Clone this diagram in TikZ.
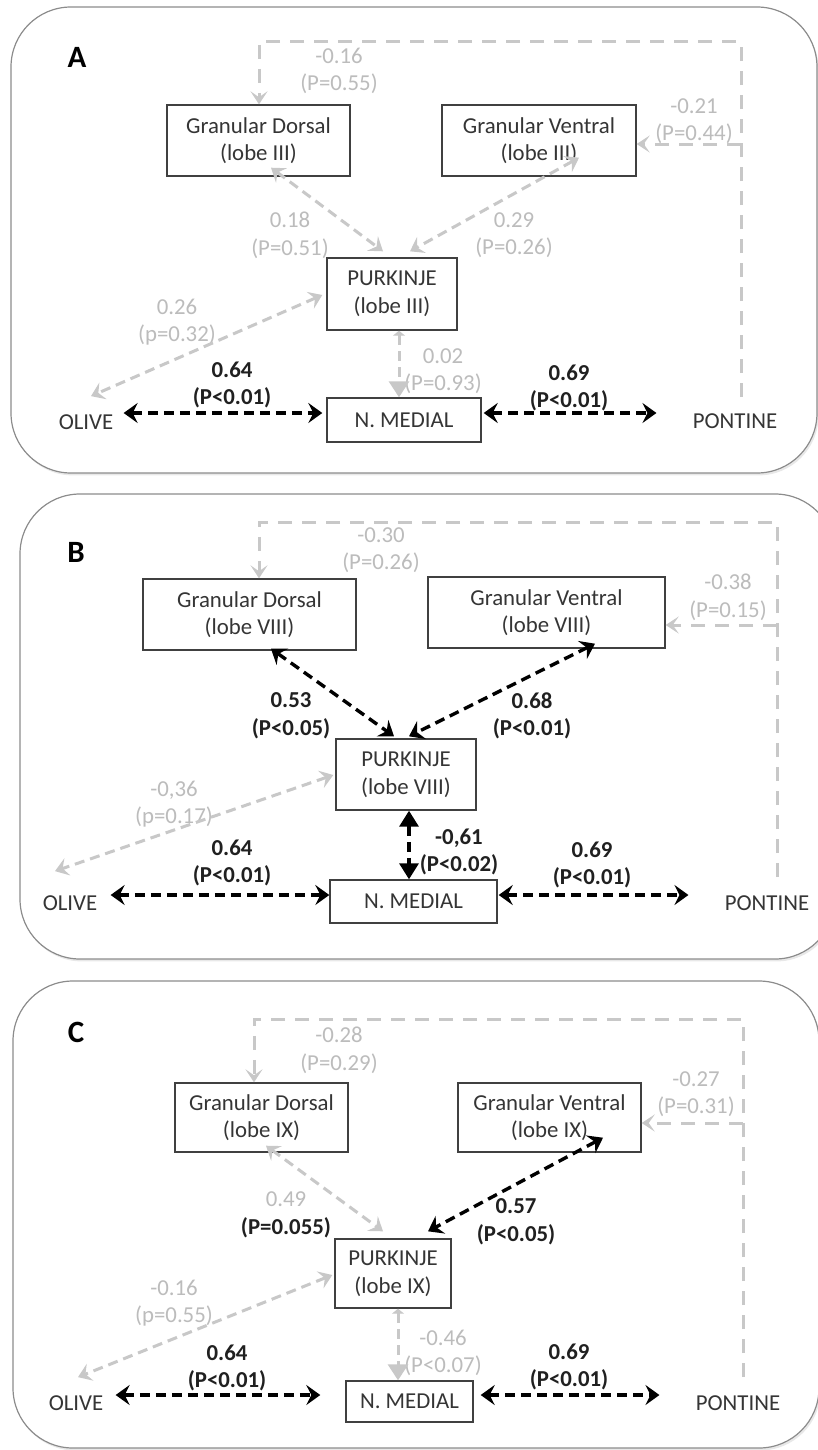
\documentclass[tikz,border=0pt]{standalone}
\usepackage{fontspec}
\setmainfont{Carlito}
\usepackage{tikz}
\usetikzlibrary{positioning, arrows.meta, calc, shadows}
\definecolor{nsgray}{HTML}{C8C8C8}
\definecolor{nstext}{HTML}{BCBCBC}
\definecolor{boxtext}{HTML}{353535}
\definecolor{sigtext}{HTML}{202020}
\tikzset{
  panel/.style={draw=black!45, line width=0.6pt, fill=white, rounded corners=30pt, drop shadow={shadow xshift=0.8pt, shadow yshift=-1.2pt, opacity=0.18}},
  cell/.style={rectangle, draw=black!75, line width=0.7pt, fill=white, text=boxtext, align=center, minimum height=35.5pt, inner sep=1pt},
  site/.style={text=boxtext, inner sep=2pt},
  sig/.style={text=sigtext, font=\bfseries, align=center, inner sep=0pt},
  nsig/.style={text=nstext, align=center, inner sep=0pt},
  letter/.style={font=\fontsize{15.5}{18}\selectfont\bfseries, inner sep=0pt},
  sigarrow/.style={draw=black, line width=1.7pt, dash pattern=on 5pt off 3pt, {Stealth[length=7pt,width=10pt,inset=2.5pt]}-{Stealth[length=7pt,width=10pt,inset=2.5pt]}},
  nsarrow/.style={draw=nsgray, line width=1.5pt, dash pattern=on 5pt off 3pt, {Stealth[length=6.5pt,width=9pt,inset=2.5pt]}-{Stealth[length=6.5pt,width=9pt,inset=2.5pt]}},
  loopline/.style={draw=nsgray, line width=1.5pt, dash pattern=on 7pt off 5pt},
  looptip/.style={-{Stealth[length=6.5pt,width=8.5pt,inset=3pt]}},
  nsvert/.style={draw=nsgray, line width=1.5pt, dash pattern=on 5pt off 3pt, {Triangle[width=6pt,length=2.5pt]}-{Triangle[width=10pt,length=8pt]}},
  sigvert/.style={draw=black, line width=1.7pt, dash pattern=on 5pt off 3pt, {Triangle[width=9.5pt,length=8pt]}-{Triangle[width=9.5pt,length=8pt]}}
}
\begin{document}
\fontsize{11.4}{13.8}\selectfont
\begin{tikzpicture}[x=0.5pt, y=-0.5pt]
  \useasboundingbox (0,0) rectangle (818,1450);

  % Panel A
  \draw[panel] (11,7) rectangle (817,473);
  \node[letter] (la) at (77,57) {A};
  \node[cell, minimum width=91.5pt] (gda) at (258.5,140.5) {Granular Dorsal\\(lobe III)};
  \node[cell, minimum width=97pt] (gva) at (539,140.5) {Granular Ventral\\(lobe III)};
  \node[cell, minimum width=65pt, minimum height=36pt] (pka) at (392,294) {PURKINJE\\(lobe III)};
  \node[cell, minimum width=77pt, minimum height=22pt] (nma) at (404,420) {N. MEDIAL};
  \node[site] (olivea) at (86,422) {OLIVE};
  \node[site] (pontinea) at (735,421) {PONTINE};
  \coordinate (corna) at (741,42);
  \coordinate (gdina) at (259,42);
  \coordinate (benda) at (741,144);
  \node[nsig] (ra1) at (339,71) {-0.16\\(P=0.55)};
  \node[nsig] (ra2) at (694,121) {-0.21\\(P=0.44)};
  \node[nsig] (ra3) at (290,235) {0.18\\(P=0.51)};
  \node[nsig] (ra4) at (514,235) {0.29\\(P=0.26)};
  \node[nsig] (ra5) at (177,322) {0.26\\(p=0.32)};
  \node[nsig] (ra6) at (443,371) {0.02\\(P=0.93)};
  \node[sig] (ra7) at (232,385) {0.64\\(P<0.01)};
  \node[sig] (ra8) at (569,388) {0.69\\(P<0.01)};
  % Conexiones A
  \draw[loopline, looptip] ($(pontinea.north -| corna)+(0,-12)$) -- (corna) -- (gdina) -- (gdina |- gda.north);
  \draw[loopline, looptip] (benda) -- (benda -| gva.east);
  \draw[nsarrow] ($(gda.south)+(12.5,-9)$) -- ($(pka.north)+(-9,-6)$);
  \draw[nsarrow] ($(gva.south)+(40,-19)$) -- ($(pka.north)+(18,-6)$);
  \draw[nsarrow] ($(pka.west)+(-4,1)$) -- ($(olivea.north)+(5,-14)$);
  \draw[nsvert] ($(pka.south)+(7,0)$) -- ($(nma.north)+(-5,0)$);
  \draw[sigarrow] ($(olivea.east)+(6,-9)$) -- ($(nma.west)+(-4,-7)$);
  \draw[sigarrow] ($(nma.east)+(2,-7)$) -- ($(pontinea.west)+(-32,-8)$);

  % Panel B
  \draw[panel] (20,494) rectangle (835,959);
  \node[letter] (lb) at (76,552) {B};
  \node[cell, minimum width=106.5pt] (gdb) at (249.5,614.5) {Granular Dorsal\\(lobe VIII)};
  \node[cell, minimum width=118.5pt] (gvb) at (546.5,612.5) {Granular Ventral\\(lobe VIII)};
  \node[cell, minimum width=70pt] (pkb) at (406,774.5) {PURKINJE\\(lobe VIII)};
  \node[cell, minimum width=83.5pt, minimum height=21.5pt] (nmb) at (413.5,901.5) {N. MEDIAL};
  \node[site] (oliveb) at (70,903) {OLIVE};
  \node[site] (pontineb) at (767,903) {PONTINE};
  \coordinate (cornb) at (777,522);
  \coordinate (gdinb) at (259,522);
  \coordinate (bendb) at (777,625);
  \node[nsig] (rb1) at (381,550) {-0.30\\(P=0.26)};
  \node[nsig] (rb2) at (728,597) {-0.38\\(P=0.15)};
  \node[sig] (rb3) at (291,716) {0.53\\(P<0.05)};
  \node[sig] (rb4) at (532,716) {0.68\\(P<0.01)};
  \node[nsig] (rb5) at (174,804) {-0,36\\(p=0.17)};
  \node[sig] (rb6) at (459,852) {-0,61\\(P<0.02)};
  \node[sig] (rb7) at (232,863) {0.64\\(P<0.01)};
  \node[sig] (rb8) at (592,865) {0.69\\(P<0.01)};
  % Conexiones B
  \draw[loopline, looptip] ($(pontineb.north -| cornb)+(0,-14)$) -- (cornb) -- (gdinb) -- (gdinb |- gdb.north);
  \draw[loopline, looptip] (bendb) -- (bendb -| gvb.east);
  \draw[sigarrow] ($(gdb.south)+(21.5,-2)$) -- ($(pkb.north)+(-12,-2)$);
  \draw[sigarrow] ($(gvb.south)+(48.5,-5)$) -- ($(pkb.north)+(3,-2)$);
  \draw[nsarrow] ($(pkb.west)+(-2,0.5)$) -- ($(oliveb.north)+(-15,-20)$);
  \draw[sigvert] ($(pkb.south)+(3,0)$) -- ($(nmb.north)+(-4.5,0)$);
  \draw[sigarrow] ($(oliveb.east)+(9,-8)$) -- ($(nmb.west)+(0,-6.5)$);
  \draw[sigarrow] ($(nmb.east)+(1,-6.5)$) -- ($(pontineb.west)+(-32,-8)$);

  % Panel C
  \draw[panel] (13,981) rectangle (819,1448);
  \node[letter] (lc) at (76,1032) {C};
  \node[cell, minimum width=86.5pt, minimum height=34.5pt] (gdc) at (261.5,1117.5) {Granular Dorsal\\(lobe IX)};
  \node[cell, minimum width=91.5pt, minimum height=34.5pt] (gvc) at (549.5,1117.5) {Granular Ventral\\(lobe IX)};
  \node[cell, minimum width=58pt, minimum height=34.5pt] (pkc) at (393,1273.5) {PURKINJE\\(lobe IX)};
  \node[cell, minimum width=63.5pt, minimum height=20.5pt] (nmc) at (409.5,1401.5) {N. MEDIAL};
  \node[site] (olivec) at (76,1403) {OLIVE};
  \node[site] (pontinec) at (738,1403) {PONTINE};
  \coordinate (cornc) at (743,1019);
  \coordinate (gdinc) at (254,1019);
  \coordinate (bendc) at (743,1123);
  \node[nsig] (rc1) at (339,1050) {-0.28\\(P=0.29)};
  \node[nsig] (rc2) at (696,1094) {-0.27\\(P=0.31)};
  \node[nsig] (rc3) at (286,1215) {0.49\\\textcolor{sigtext}{\bfseries (P=0.055)}};
  \node[sig] (rc4) at (516,1222) {0.57\\(P<0.05)};
  \node[nsig] (rc5) at (174,1303) {-0.16\\(p=0.55)};
  \node[nsig] (rc6) at (443,1353) {-0.46\\(P<0.07)};
  \node[sig] (rc7) at (227,1368) {0.64\\(P<0.01)};
  \node[sig] (rc8) at (569,1367) {0.69\\(P<0.01)};
  % Conexiones C
  \draw[loopline, looptip] ($(pontinec.north -| cornc)+(0,-14)$) -- (cornc) -- (gdinc) -- (gdinc |- gdc.north);
  \draw[loopline, looptip] (bendc) -- (bendc -| gvc.east);
  \draw[nsarrow] ($(gdc.south)+(4.5,-7)$) -- ($(pkc.north)+(-10,-7)$);
  \draw[sigarrow] ($(gvc.south)+(53.5,-15)$) -- ($(pkc.north)+(35,-7)$);
  \draw[nsarrow] ($(pkc.west)+(-2,1.5)$) -- ($(olivec.north)+(2,-14)$);
  \draw[nsvert] ($(pkc.south)+(5,0)$) -- ($(nmc.north)+(-11.5,0)$);
  \draw[sigarrow] ($(olivec.east)+(8,-8)$) -- ($(nmc.west)+(-25,-6.5)$);
  \draw[sigarrow] ($(nmc.east)+(7,-6.5)$) -- ($(pontinec.west)+(-32,-8)$);
\end{tikzpicture}
\end{document}
